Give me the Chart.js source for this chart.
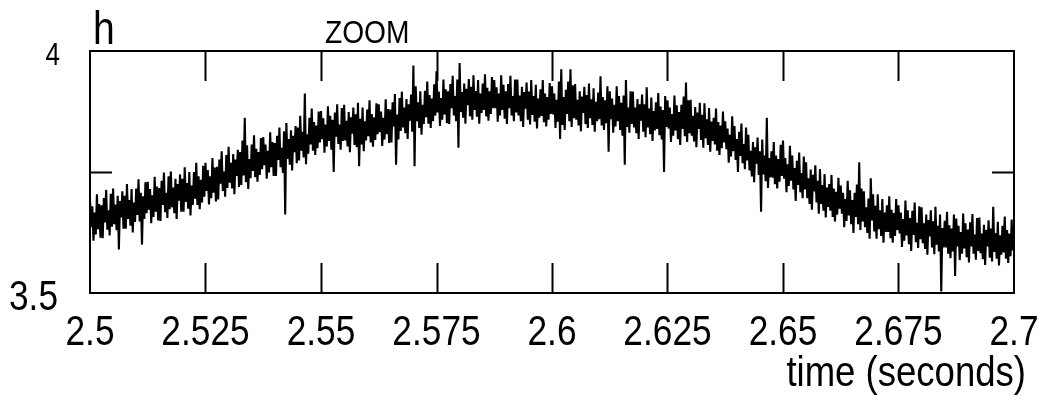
<!DOCTYPE html>
<html>
<head>
<meta charset="utf-8">
<script src="https://cdn.jsdelivr.net/npm/chart.js@4/dist/chart.umd.min.js"></script>
<style>
  html, body { margin: 0; padding: 0; background: #ffffff; }
  canvas { display: block; }
</style>
</head>
<body>
<canvas id="trace" width="1049" height="404"></canvas>
<script>
// Sampling grid of the recorded trace (seconds)
const sampleStart = 2.5;
const sampleStep = 0.00025;

// Height h, one reading per sample (2.5 s to 2.7 s)
const hValues = [
  3.694, 3.636, 3.679, 3.608, 3.666, 3.621, 3.704, 3.632, 3.684, 3.614,
  3.681, 3.613, 3.696, 3.646, 3.713, 3.631, 3.671, 3.619, 3.705, 3.637,
  3.716, 3.642, 3.683, 3.630, 3.701, 3.590, 3.690, 3.656, 3.710, 3.633,
  3.701, 3.633, 3.725, 3.653, 3.692, 3.639, 3.715, 3.625, 3.687, 3.647,
  3.716, 3.661, 3.735, 3.648, 3.707, 3.600, 3.700, 3.653, 3.729, 3.665,
  3.730, 3.672, 3.715, 3.644, 3.702, 3.657, 3.740, 3.668, 3.720, 3.650,
  3.717, 3.649, 3.732, 3.682, 3.749, 3.667, 3.707, 3.655, 3.741, 3.673,
  3.751, 3.677, 3.718, 3.665, 3.736, 3.653, 3.725, 3.691, 3.745, 3.668,
  3.736, 3.668, 3.760, 3.688, 3.727, 3.674, 3.750, 3.660, 3.722, 3.682,
  3.750, 3.695, 3.769, 3.682, 3.741, 3.673, 3.734, 3.687, 3.763, 3.699,
  3.769, 3.711, 3.754, 3.683, 3.741, 3.696, 3.779, 3.707, 3.759, 3.689,
  3.761, 3.693, 3.776, 3.726, 3.793, 3.711, 3.751, 3.699, 3.785, 3.717,
  3.802, 3.728, 3.769, 3.716, 3.787, 3.704, 3.776, 3.742, 3.796, 3.719,
  3.791, 3.723, 3.815, 3.743, 3.862, 3.729, 3.805, 3.715, 3.777, 3.737,
  3.807, 3.752, 3.826, 3.739, 3.798, 3.730, 3.791, 3.744, 3.820, 3.756,
  3.822, 3.764, 3.807, 3.736, 3.794, 3.749, 3.832, 3.760, 3.812, 3.742,
  3.810, 3.742, 3.825, 3.775, 3.842, 3.760, 3.800, 3.748, 3.834, 3.662,
  3.851, 3.777, 3.818, 3.765, 3.836, 3.753, 3.825, 3.791, 3.845, 3.768,
  3.842, 3.774, 3.866, 3.794, 3.833, 3.780, 3.912, 3.766, 3.828, 3.788,
  3.862, 3.807, 3.881, 3.794, 3.853, 3.785, 3.846, 3.799, 3.875, 3.811,
  3.876, 3.818, 3.861, 3.790, 3.848, 3.803, 3.886, 3.814, 3.866, 3.796,
  3.858, 3.750, 3.873, 3.823, 3.890, 3.808, 3.848, 3.796, 3.882, 3.814,
  3.889, 3.815, 3.856, 3.803, 3.874, 3.791, 3.863, 3.829, 3.883, 3.806,
  3.869, 3.801, 3.893, 3.762, 3.860, 3.807, 3.883, 3.793, 3.855, 3.815,
  3.879, 3.824, 3.898, 3.811, 3.870, 3.802, 3.863, 3.816, 3.892, 3.828,
  3.890, 3.832, 3.875, 3.804, 3.862, 3.817, 3.900, 3.828, 3.880, 3.810,
  3.879, 3.811, 3.894, 3.844, 3.911, 3.765, 3.869, 3.817, 3.903, 3.835,
  3.916, 3.842, 3.883, 3.830, 3.901, 3.818, 3.890, 3.856, 3.910, 3.833,
  3.970, 3.762, 3.927, 3.855, 3.894, 3.841, 3.917, 3.827, 3.889, 3.849,
  3.918, 3.863, 3.937, 3.850, 3.909, 3.841, 3.902, 3.855, 3.931, 3.867,
  3.958, 3.873, 3.916, 3.845, 3.903, 3.858, 3.941, 3.869, 3.921, 3.851,
  3.917, 3.849, 3.932, 3.882, 3.949, 3.867, 3.907, 3.855, 3.941, 3.800,
  3.975, 3.874, 3.915, 3.862, 3.933, 3.850, 3.922, 3.888, 3.942, 3.865,
  3.926, 3.858, 3.950, 3.878, 3.917, 3.864, 3.940, 3.850, 3.912, 3.872,
  3.933, 3.878, 3.952, 3.865, 3.924, 3.856, 3.917, 3.870, 3.946, 3.882,
  3.940, 3.882, 3.925, 3.854, 3.912, 3.867, 3.950, 3.878, 3.930, 3.860,
  3.917, 3.849, 3.932, 3.882, 3.949, 3.867, 3.907, 3.855, 3.941, 3.873,
  3.941, 3.867, 3.908, 3.855, 3.926, 3.843, 3.915, 3.881, 3.935, 3.858,
  3.916, 3.848, 3.940, 3.868, 3.907, 3.854, 3.930, 3.840, 3.902, 3.862,
  3.921, 3.866, 3.940, 3.853, 3.912, 3.844, 3.905, 3.858, 3.934, 3.870,
  3.927, 3.869, 3.912, 3.841, 3.899, 3.854, 3.937, 3.818, 3.962, 3.847,
  3.905, 3.837, 3.920, 3.870, 3.937, 3.855, 3.962, 3.843, 3.929, 3.861,
  3.932, 3.858, 3.899, 3.846, 3.917, 3.834, 3.906, 3.872, 3.926, 3.849,
  3.909, 3.841, 3.933, 3.861, 3.900, 3.847, 3.923, 3.833, 3.895, 3.855,
  3.914, 3.859, 3.948, 3.846, 3.905, 3.837, 3.898, 3.851, 3.927, 3.792,
  3.917, 3.859, 3.902, 3.831, 3.889, 3.844, 3.927, 3.855, 3.907, 3.837,
  3.893, 3.825, 3.908, 3.765, 3.940, 3.843, 3.883, 3.831, 3.917, 3.849,
  3.916, 3.842, 3.883, 3.830, 3.901, 3.818, 3.890, 3.856, 3.910, 3.833,
  3.890, 3.822, 3.925, 3.842, 3.881, 3.828, 3.904, 3.814, 3.876, 3.836,
  3.894, 3.839, 3.913, 3.826, 3.885, 3.817, 3.878, 3.750, 3.907, 3.843,
  3.898, 3.840, 3.883, 3.812, 3.870, 3.825, 3.908, 3.836, 3.888, 3.818,
  3.874, 3.806, 3.889, 3.839, 3.906, 3.824, 3.935, 3.812, 3.898, 3.830,
  3.899, 3.825, 3.866, 3.813, 3.884, 3.801, 3.873, 3.839, 3.893, 3.816,
  3.868, 3.800, 3.892, 3.820, 3.859, 3.806, 3.882, 3.792, 3.854, 3.814,
  3.862, 3.807, 3.881, 3.794, 3.853, 3.785, 3.846, 3.799, 3.875, 3.811,
  3.855, 3.797, 3.840, 3.769, 3.827, 3.782, 3.865, 3.793, 3.845, 3.775,
  3.818, 3.750, 3.833, 3.783, 3.850, 3.768, 3.808, 3.756, 3.842, 3.774,
  3.827, 3.753, 3.794, 3.741, 3.812, 3.729, 3.801, 3.767, 3.821, 3.744,
  3.793, 3.668, 3.817, 3.745, 3.784, 3.731, 3.862, 3.717, 3.779, 3.739,
  3.793, 3.738, 3.812, 3.725, 3.784, 3.716, 3.777, 3.730, 3.806, 3.742,
  3.815, 3.736, 3.779, 3.708, 3.766, 3.721, 3.804, 3.732, 3.784, 3.714,
  3.758, 3.690, 3.773, 3.723, 3.790, 3.708, 3.748, 3.696, 3.782, 3.714,
  3.770, 3.696, 3.737, 3.684, 3.755, 3.672, 3.744, 3.710, 3.764, 3.687,
  3.732, 3.664, 3.756, 3.684, 3.723, 3.670, 3.746, 3.656, 3.718, 3.678,
  3.725, 3.670, 3.744, 3.657, 3.716, 3.648, 3.709, 3.662, 3.738, 3.674,
  3.722, 3.664, 3.707, 3.636, 3.694, 3.649, 3.732, 3.660, 3.712, 3.642,
  3.692, 3.624, 3.707, 3.657, 3.724, 3.642, 3.770, 3.630, 3.716, 3.648,
  3.710, 3.636, 3.677, 3.624, 3.695, 3.612, 3.737, 3.650, 3.704, 3.627,
  3.680, 3.612, 3.704, 3.632, 3.671, 3.618, 3.694, 3.604, 3.666, 3.626,
  3.681, 3.626, 3.700, 3.613, 3.672, 3.604, 3.665, 3.618, 3.694, 3.630,
  3.681, 3.623, 3.666, 3.595, 3.653, 3.608, 3.691, 3.619, 3.671, 3.601,
  3.655, 3.587, 3.670, 3.620, 3.687, 3.605, 3.645, 3.593, 3.679, 3.611,
  3.677, 3.603, 3.644, 3.591, 3.662, 3.579, 3.651, 3.617, 3.671, 3.594,
  3.648, 3.580, 3.678, 3.600, 3.639, 3.586, 3.662, 3.503, 3.634, 3.594,
  3.649, 3.594, 3.668, 3.581, 3.640, 3.572, 3.633, 3.586, 3.662, 3.535,
  3.654, 3.596, 3.639, 3.568, 3.626, 3.581, 3.664, 3.592, 3.644, 3.574,
  3.631, 3.563, 3.646, 3.596, 3.663, 3.581, 3.621, 3.569, 3.655, 3.587,
  3.656, 3.582, 3.623, 3.570, 3.641, 3.558, 3.630, 3.596, 3.650, 3.573,
  3.633, 3.565, 3.678, 3.585, 3.624, 3.571, 3.647, 3.557, 3.619, 3.579,
  3.639, 3.584, 3.658, 3.571, 3.630, 3.562, 3.623, 3.576, 3.652, 3.588,
  3.605
];

// Axis ticks and their labels
const timeTicks = [2.5, 2.525, 2.55, 2.575, 2.6, 2.625, 2.65, 2.675, 2.7];
const timeTickLabels = ['2.5', '2.525', '2.55', '2.575', '2.6', '2.625', '2.65', '2.675', '2.7'];
const hTicks = [3.5, 3.75, 4];
const hTickLabels = ['3.5', '', '4'];

const FONT = "'Liberation Sans', Arial, sans-serif";

const points = hValues.map((v, i) => ({ x: sampleStart + i * sampleStep, y: v }));

// Text squeezed horizontally, like the narrow plotter lettering
function narrowText(ctx, text, x, y, size, squeeze, align) {
  ctx.save();
  ctx.font = `${size}px ${FONT}`;
  ctx.textAlign = align;
  ctx.textBaseline = 'alphabetic';
  ctx.translate(x, y);
  ctx.scale(squeeze, 1);
  ctx.fillText(text, 0, 0);
  ctx.restore();
}

// Frame, inward tick marks, tick labels and the free-standing captions
const framePlugin = {
  id: 'frame',
  afterDatasetsDraw(chart) {
    const { ctx, chartArea: a, scales } = chart;
    const xs = scales.x, ys = scales.y;
    ctx.save();
    ctx.strokeStyle = '#000';
    ctx.lineWidth = 2;
    ctx.strokeRect(a.left, a.top, a.right - a.left, a.bottom - a.top);
    ctx.beginPath();
    xs.ticks.forEach(t => {
      if (t.value === xs.min || t.value === xs.max) return;
      const px = Math.round(xs.getPixelForValue(t.value)) + 0.5;
      ctx.moveTo(px, a.top);
      ctx.lineTo(px, a.top + 30);
      ctx.moveTo(px, a.bottom);
      ctx.lineTo(px, a.bottom - 30);
    });
    ys.ticks.forEach(t => {
      if (t.value === ys.min || t.value === ys.max) return;
      const py = Math.round(ys.getPixelForValue(t.value)) + 0.5;
      ctx.moveTo(a.left, py);
      ctx.lineTo(a.left + 22, py);
      ctx.moveTo(a.right, py);
      ctx.lineTo(a.right - 22, py);
    });
    ctx.stroke();
    ctx.fillStyle = '#000';

    // time tick labels
    xs.ticks.forEach((t, i) => {
      narrowText(ctx, timeTickLabels[i], xs.getPixelForValue(t.value), a.bottom + 52, 42, 0.84, 'center');
    });
    // h tick labels
    ys.ticks.forEach((t, i) => {
      const label = hTickLabels[i];
      if (!label) return;
      const py = ys.getPixelForValue(t.value);
      if (t.value === 4) narrowText(ctx, label, a.left - 30, py + 14, 31, 0.84, 'right');
      else narrowText(ctx, label, a.left - 32, py + 17, 42, 0.84, 'right');
    });

    narrowText(ctx, 'h', 93, 44, 46, 0.85, 'left');
    narrowText(ctx, 'ZOOM', 325, 43, 32, 0.88, 'left');
    narrowText(ctx, 'time (seconds)', 1026, 386, 42, 0.87, 'right');
    ctx.restore();
  }
};

new Chart(document.getElementById('trace'), {
  type: 'line',
  data: {
    datasets: [{
      data: points,
      borderColor: '#000000',
      borderWidth: 2.1,
      pointRadius: 0,
      tension: 0,
      fill: false
    }]
  },
  options: {
    responsive: false,
    animation: false,
    devicePixelRatio: 1,
    layout: { padding: { top: 51, right: 35, left: 0, bottom: 0 } },
    plugins: { legend: { display: false }, tooltip: { enabled: false } },
    scales: {
      x: {
        type: 'linear',
        min: 2.5,
        max: 2.7,
        grid: { display: false },
        border: { display: false },
        afterBuildTicks: s => { s.ticks = timeTicks.map(v => ({ value: v })); },
        afterFit: s => { s.height = 111; },
        ticks: { display: false }
      },
      y: {
        type: 'linear',
        min: 3.5,
        max: 4,
        grid: { display: false },
        border: { display: false },
        afterBuildTicks: s => { s.ticks = hTicks.map(v => ({ value: v })); },
        afterFit: s => { s.width = 90; },
        ticks: { display: false }
      }
    }
  },
  plugins: [framePlugin]
});
</script>
</body>
</html>
